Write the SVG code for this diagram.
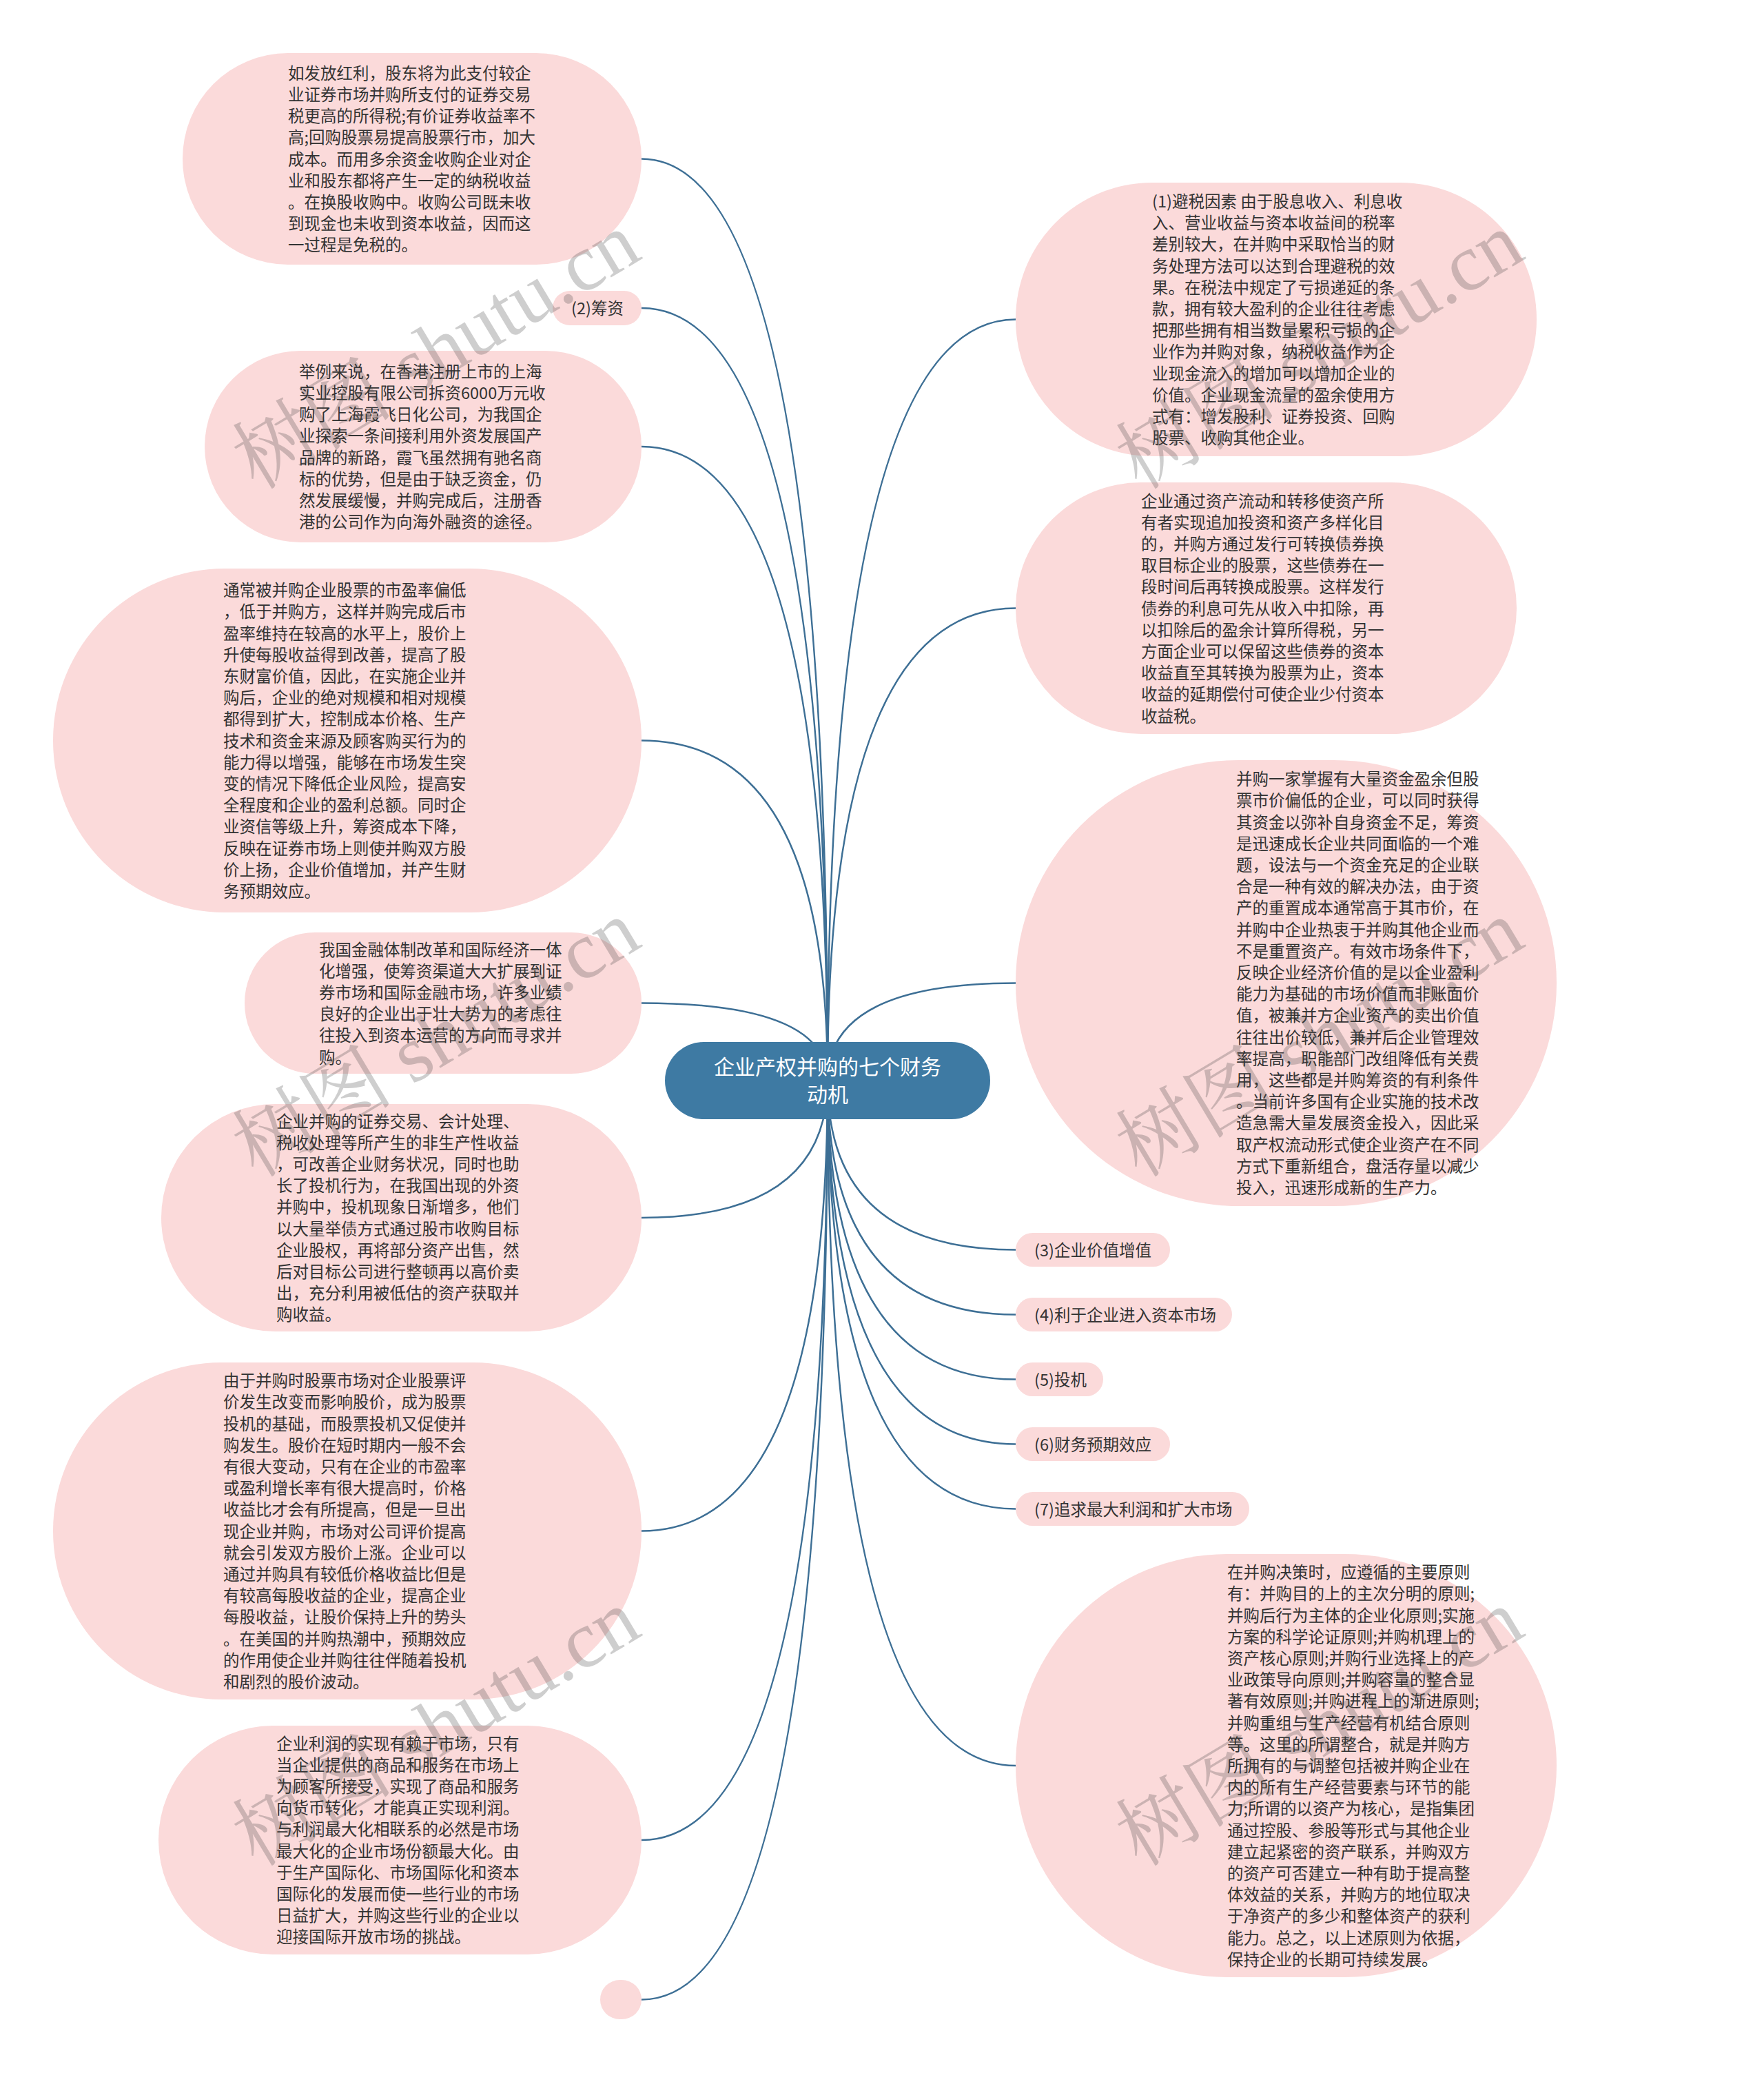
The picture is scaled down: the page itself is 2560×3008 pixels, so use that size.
<svg xmlns="http://www.w3.org/2000/svg" width="2560" height="3008" viewBox="0 0 2560 3008">
<style>
.n{fill:#fbdada}
.t{font-family:"Noto Sans CJK SC","Noto Sans",sans-serif;font-size:23.5px;fill:#333}
.c{fill:none;stroke:#3d6f95;stroke-width:2.5}
.root{fill:#3e7aa3}
.rt{font-family:"Noto Sans CJK SC","Noto Sans",sans-serif;font-size:30px;fill:#fff;text-anchor:middle}
.wm{font-family:"Liberation Serif","Noto Serif CJK SC","Noto Sans CJK SC",serif;font-size:117px;fill:#404040;opacity:.25}
</style>
<rect width="2560" height="3008" fill="#fff"/>
<g id="connectors">
<path class="c" d="M1201,1568 Q1201,230.5 931,230.5"/>
<path class="c" d="M1201,1568 Q1201,447 931,447"/>
<path class="c" d="M1201,1568 Q1201,648 931,648"/>
<path class="c" d="M1201,1568 Q1201,1074.5 931,1074.5"/>
<path class="c" d="M1201,1568 Q1201,1455.5 931,1455.5"/>
<path class="c" d="M1201,1568 Q1201,1767 931,1767"/>
<path class="c" d="M1201,1568 Q1201,2221.5 931,2221.5"/>
<path class="c" d="M1201,1568 Q1201,2670 931,2670"/>
<path class="c" d="M1201,1568 Q1201,2901.5 931,2901.5"/>
<path class="c" d="M1201,1568 Q1201,463.5 1474,463.5"/>
<path class="c" d="M1201,1568 Q1201,882.5 1474,882.5"/>
<path class="c" d="M1201,1568 Q1201,1426.5 1474,1426.5"/>
<path class="c" d="M1201,1568 Q1201,1813.5 1474,1813.5"/>
<path class="c" d="M1201,1568 Q1201,1907.5 1474,1907.5"/>
<path class="c" d="M1201,1568 Q1201,2001.5 1474,2001.5"/>
<path class="c" d="M1201,1568 Q1201,2095.5 1474,2095.5"/>
<path class="c" d="M1201,1568 Q1201,2189.5 1474,2189.5"/>
<path class="c" d="M1201,1568 Q1201,2562 1474,2562"/>
</g>
<g id="root">
<rect class="root" x="965" y="1512" width="472" height="112" rx="56"/>
<text class="rt" x="1201" y="1559">企业产权并购的七个财务</text>
<text class="rt" x="1201" y="1599">动机</text>
</g>
<g id="n1">
<rect class="n" x="265" y="77" width="666" height="307" rx="153"/>
<text class="t" y="83.5"><tspan x="418" dy="31.2">如发放红利，股东将为此支付较企</tspan><tspan x="418" dy="31.2">业证券市场并购所支付的证券交易</tspan><tspan x="418" dy="31.2">税更高的所得税;有价证券收益率不</tspan><tspan x="418" dy="31.2">高;回购股票易提高股票行市，加大</tspan><tspan x="418" dy="31.2">成本。而用多余资金收购企业对企</tspan><tspan x="418" dy="31.2">业和股东都将产生一定的纳税收益</tspan><tspan x="418" dy="31.2">。在换股收购中。收购公司既未收</tspan><tspan x="418" dy="31.2">到现金也未收到资本收益，因而这</tspan><tspan x="418" dy="31.2">一过程是免税的。</tspan></text>
</g>
<g id="n2">
<rect class="n" x="802" y="422" width="129" height="50" rx="25"/>
<text class="t" x="829" y="456">(2)筹资</text>
</g>
<g id="n3">
<rect class="n" x="297" y="509" width="634" height="278" rx="139"/>
<text class="t" y="516.6"><tspan x="434" dy="31.2">举例来说，在香港注册上市的上海</tspan><tspan x="434" dy="31.2">实业控股有限公司拆资6000万元收</tspan><tspan x="434" dy="31.2">购了上海霞飞日化公司，为我国企</tspan><tspan x="434" dy="31.2">业探索一条间接利用外资发展国产</tspan><tspan x="434" dy="31.2">品牌的新路，霞飞虽然拥有驰名商</tspan><tspan x="434" dy="31.2">标的优势，但是由于缺乏资金，仍</tspan><tspan x="434" dy="31.2">然发展缓慢，并购完成后，注册香</tspan><tspan x="434" dy="31.2">港的公司作为向海外融资的途径。</tspan></text>
</g>
<g id="n4">
<rect class="n" x="77" y="825" width="854" height="499" rx="249"/>
<text class="t" y="833.9"><tspan x="324" dy="31.2">通常被并购企业股票的市盈率偏低</tspan><tspan x="324" dy="31.2">，低于并购方，这样并购完成后市</tspan><tspan x="324" dy="31.2">盈率维持在较高的水平上，股价上</tspan><tspan x="324" dy="31.2">升使每股收益得到改善，提高了股</tspan><tspan x="324" dy="31.2">东财富价值，因此，在实施企业并</tspan><tspan x="324" dy="31.2">购后，企业的绝对规模和相对规模</tspan><tspan x="324" dy="31.2">都得到扩大，控制成本价格、生产</tspan><tspan x="324" dy="31.2">技术和资金来源及顾客购买行为的</tspan><tspan x="324" dy="31.2">能力得以增强，能够在市场发生突</tspan><tspan x="324" dy="31.2">变的情况下降低企业风险，提高安</tspan><tspan x="324" dy="31.2">全程度和企业的盈利总额。同时企</tspan><tspan x="324" dy="31.2">业资信等级上升，筹资成本下降，</tspan><tspan x="324" dy="31.2">反映在证券市场上则使并购双方股</tspan><tspan x="324" dy="31.2">价上扬，企业价值增加，并产生财</tspan><tspan x="324" dy="31.2">务预期效应。</tspan></text>
</g>
<g id="n5">
<rect class="n" x="355" y="1353" width="576" height="205" rx="102"/>
<text class="t" y="1355.3"><tspan x="463" dy="31.2">我国金融体制改革和国际经济一体</tspan><tspan x="463" dy="31.2">化增强，使筹资渠道大大扩展到证</tspan><tspan x="463" dy="31.2">券市场和国际金融市场，许多业绩</tspan><tspan x="463" dy="31.2">良好的企业出于壮大势力的考虑往</tspan><tspan x="463" dy="31.2">往投入到资本运营的方向而寻求并</tspan><tspan x="463" dy="31.2">购。</tspan></text>
</g>
<g id="n6">
<rect class="n" x="234" y="1602" width="697" height="330" rx="165"/>
<text class="t" y="1604.4"><tspan x="401" dy="31.2">企业并购的证券交易、会计处理、</tspan><tspan x="401" dy="31.2">税收处理等所产生的非生产性收益</tspan><tspan x="401" dy="31.2">，可改善企业财务状况，同时也助</tspan><tspan x="401" dy="31.2">长了投机行为，在我国出现的外资</tspan><tspan x="401" dy="31.2">并购中，投机现象日渐增多，他们</tspan><tspan x="401" dy="31.2">以大量举债方式通过股市收购目标</tspan><tspan x="401" dy="31.2">企业股权，再将部分资产出售，然</tspan><tspan x="401" dy="31.2">后对目标公司进行整顿再以高价卖</tspan><tspan x="401" dy="31.2">出，充分利用被低估的资产获取并</tspan><tspan x="401" dy="31.2">购收益。</tspan></text>
</g>
<g id="n7">
<rect class="n" x="77" y="1977" width="854" height="489" rx="244"/>
<text class="t" y="1980.9"><tspan x="324" dy="31.2">由于并购时股票市场对企业股票评</tspan><tspan x="324" dy="31.2">价发生改变而影响股价，成为股票</tspan><tspan x="324" dy="31.2">投机的基础，而股票投机又促使并</tspan><tspan x="324" dy="31.2">购发生。股价在短时期内一般不会</tspan><tspan x="324" dy="31.2">有很大变动，只有在企业的市盈率</tspan><tspan x="324" dy="31.2">或盈利增长率有很大提高时，价格</tspan><tspan x="324" dy="31.2">收益比才会有所提高，但是一旦出</tspan><tspan x="324" dy="31.2">现企业并购，市场对公司评价提高</tspan><tspan x="324" dy="31.2">就会引发双方股价上涨。企业可以</tspan><tspan x="324" dy="31.2">通过并购具有较低价格收益比但是</tspan><tspan x="324" dy="31.2">有较高每股收益的企业，提高企业</tspan><tspan x="324" dy="31.2">每股收益，让股价保持上升的势头</tspan><tspan x="324" dy="31.2">。在美国的并购热潮中，预期效应</tspan><tspan x="324" dy="31.2">的作用使企业并购往往伴随着投机</tspan><tspan x="324" dy="31.2">和剧烈的股价波动。</tspan></text>
</g>
<g id="n8">
<rect class="n" x="230" y="2504" width="701" height="332" rx="166"/>
<text class="t" y="2507.4"><tspan x="401" dy="31.2">企业利润的实现有赖于市场，只有</tspan><tspan x="401" dy="31.2">当企业提供的商品和服务在市场上</tspan><tspan x="401" dy="31.2">为顾客所接受，实现了商品和服务</tspan><tspan x="401" dy="31.2">向货币转化，才能真正实现利润。</tspan><tspan x="401" dy="31.2">与利润最大化相联系的必然是市场</tspan><tspan x="401" dy="31.2">最大化的企业市场份额最大化。由</tspan><tspan x="401" dy="31.2">于生产国际化、市场国际化和资本</tspan><tspan x="401" dy="31.2">国际化的发展而使一些行业的市场</tspan><tspan x="401" dy="31.2">日益扩大，并购这些行业的企业以</tspan><tspan x="401" dy="31.2">迎接国际开放市场的挑战。</tspan></text>
</g>
<g id="n9">
<rect class="n" x="871" y="2873" width="60" height="57" rx="28.5"/>
</g>
<g id="r1">
<rect class="n" x="1474" y="265" width="756" height="397" rx="198"/>
<text class="t" y="269.7"><tspan x="1672" dy="31.2">(1)避税因素 由于股息收入、利息收</tspan><tspan x="1672" dy="31.2">入、营业收益与资本收益间的税率</tspan><tspan x="1672" dy="31.2">差别较大，在并购中采取恰当的财</tspan><tspan x="1672" dy="31.2">务处理方法可以达到合理避税的效</tspan><tspan x="1672" dy="31.2">果。在税法中规定了亏损递延的条</tspan><tspan x="1672" dy="31.2">款，拥有较大盈利的企业往往考虑</tspan><tspan x="1672" dy="31.2">把那些拥有相当数量累积亏损的企</tspan><tspan x="1672" dy="31.2">业作为并购对象，纳税收益作为企</tspan><tspan x="1672" dy="31.2">业现金流入的增加可以增加企业的</tspan><tspan x="1672" dy="31.2">价值。企业现金流量的盈余使用方</tspan><tspan x="1672" dy="31.2">式有：增发股利、证券投资、回购</tspan><tspan x="1672" dy="31.2">股票、收购其他企业。</tspan></text>
</g>
<g id="r2">
<rect class="n" x="1474" y="700" width="727" height="365" rx="182"/>
<text class="t" y="704.3"><tspan x="1656" dy="31.2">企业通过资产流动和转移使资产所</tspan><tspan x="1656" dy="31.2">有者实现追加投资和资产多样化目</tspan><tspan x="1656" dy="31.2">的，并购方通过发行可转换债券换</tspan><tspan x="1656" dy="31.2">取目标企业的股票，这些债券在一</tspan><tspan x="1656" dy="31.2">段时间后再转换成股票。这样发行</tspan><tspan x="1656" dy="31.2">债券的利息可先从收入中扣除，再</tspan><tspan x="1656" dy="31.2">以扣除后的盈余计算所得税，另一</tspan><tspan x="1656" dy="31.2">方面企业可以保留这些债券的资本</tspan><tspan x="1656" dy="31.2">收益直至其转换为股票为止，资本</tspan><tspan x="1656" dy="31.2">收益的延期偿付可使企业少付资本</tspan><tspan x="1656" dy="31.2">收益税。</tspan></text>
</g>
<g id="r3">
<rect class="n" x="1474" y="1103" width="785" height="647" rx="323"/>
<text class="t" y="1107.9"><tspan x="1794" dy="31.2">并购一家掌握有大量资金盈余但股</tspan><tspan x="1794" dy="31.2">票市价偏低的企业，可以同时获得</tspan><tspan x="1794" dy="31.2">其资金以弥补自身资金不足，筹资</tspan><tspan x="1794" dy="31.2">是迅速成长企业共同面临的一个难</tspan><tspan x="1794" dy="31.2">题，设法与一个资金充足的企业联</tspan><tspan x="1794" dy="31.2">合是一种有效的解决办法，由于资</tspan><tspan x="1794" dy="31.2">产的重置成本通常高于其市价，在</tspan><tspan x="1794" dy="31.2">并购中企业热衷于并购其他企业而</tspan><tspan x="1794" dy="31.2">不是重置资产。有效市场条件下，</tspan><tspan x="1794" dy="31.2">反映企业经济价值的是以企业盈利</tspan><tspan x="1794" dy="31.2">能力为基础的市场价值而非账面价</tspan><tspan x="1794" dy="31.2">值，被兼并方企业资产的卖出价值</tspan><tspan x="1794" dy="31.2">往往出价较低，兼并后企业管理效</tspan><tspan x="1794" dy="31.2">率提高，职能部门改组降低有关费</tspan><tspan x="1794" dy="31.2">用，这些都是并购筹资的有利条件</tspan><tspan x="1794" dy="31.2">。当前许多国有企业实施的技术改</tspan><tspan x="1794" dy="31.2">造急需大量发展资金投入，因此采</tspan><tspan x="1794" dy="31.2">取产权流动形式使企业资产在不同</tspan><tspan x="1794" dy="31.2">方式下重新组合，盘活存量以减少</tspan><tspan x="1794" dy="31.2">投入，迅速形成新的生产力。</tspan></text>
</g>
<g id="r4">
<rect class="n" x="1474" y="1789" width="224" height="49" rx="24.5"/>
<text class="t" x="1501" y="1822.5">(3)企业价值增值</text>
</g>
<g id="r5">
<rect class="n" x="1474" y="1883" width="314" height="49" rx="24.5"/>
<text class="t" x="1501" y="1916.5">(4)利于企业进入资本市场</text>
</g>
<g id="r6">
<rect class="n" x="1474" y="1977" width="127" height="49" rx="24.5"/>
<text class="t" x="1501" y="2010.5">(5)投机</text>
</g>
<g id="r7">
<rect class="n" x="1474" y="2071" width="224" height="49" rx="24.5"/>
<text class="t" x="1501" y="2104.5">(6)财务预期效应</text>
</g>
<g id="r8">
<rect class="n" x="1474" y="2165" width="339" height="49" rx="24.5"/>
<text class="t" x="1501" y="2198.5">(7)追求最大利润和扩大市场</text>
</g>
<g id="r9">
<rect class="n" x="1474" y="2255" width="785" height="614" rx="307"/>
<text class="t" y="2259"><tspan x="1781" dy="31.2">在并购决策时，应遵循的主要原则</tspan><tspan x="1781" dy="31.2">有：并购目的上的主次分明的原则;</tspan><tspan x="1781" dy="31.2">并购后行为主体的企业化原则;实施</tspan><tspan x="1781" dy="31.2">方案的科学论证原则;并购机理上的</tspan><tspan x="1781" dy="31.2">资产核心原则;并购行业选择上的产</tspan><tspan x="1781" dy="31.2">业政策导向原则;并购容量的整合显</tspan><tspan x="1781" dy="31.2">著有效原则;并购进程上的渐进原则;</tspan><tspan x="1781" dy="31.2">并购重组与生产经营有机结合原则</tspan><tspan x="1781" dy="31.2">等。这里的所谓整合，就是并购方</tspan><tspan x="1781" dy="31.2">所拥有的与调整包括被并购企业在</tspan><tspan x="1781" dy="31.2">内的所有生产经营要素与环节的能</tspan><tspan x="1781" dy="31.2">力;所谓的以资产为核心，是指集团</tspan><tspan x="1781" dy="31.2">通过控股、参股等形式与其他企业</tspan><tspan x="1781" dy="31.2">建立起紧密的资产联系，并购双方</tspan><tspan x="1781" dy="31.2">的资产可否建立一种有助于提高整</tspan><tspan x="1781" dy="31.2">体效益的关系，并购方的地位取决</tspan><tspan x="1781" dy="31.2">于净资产的多少和整体资产的获利</tspan><tspan x="1781" dy="31.2">能力。总之，以上述原则为依据，</tspan><tspan x="1781" dy="31.2">保持企业的长期可持续发展。</tspan></text>
</g>
<g id="watermark">
<text class="wm" transform="translate(372,712) rotate(-31)">树图 shutu.cn</text>
<text class="wm" transform="translate(372,1710) rotate(-31)">树图 shutu.cn</text>
<text class="wm" transform="translate(372,2710) rotate(-31)">树图 shutu.cn</text>
<text class="wm" transform="translate(1654,712) rotate(-31)">树图 shutu.cn</text>
<text class="wm" transform="translate(1654,1710) rotate(-31)">树图 shutu.cn</text>
<text class="wm" transform="translate(1654,2710) rotate(-31)">树图 shutu.cn</text>
</g>
</svg>
